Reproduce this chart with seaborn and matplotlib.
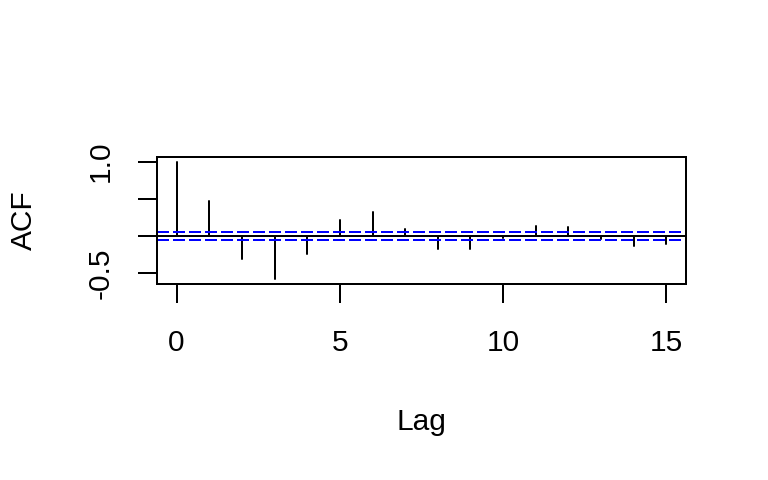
import matplotlib
matplotlib.use("Agg")
import matplotlib.pyplot as plt
import seaborn as sns
import pandas as pd
import numpy as np

lags = list(range(16))
acf_vals = [1.0, 0.465, -0.316, -0.585, -0.25, 0.21, 0.318, 0.09,
            -0.174, -0.18, -0.027, 0.13, 0.117, -0.04, -0.134, -0.107]
ci = 0.054
x_ticks = [0, 5, 10, 15]
y_ticks = [-0.5, 0.0, 0.5, 1.0]
y_ticklabels = ["-0.5", "", "", "1.0"]

sns.set_theme(style="white")
plt.rcParams['font.family'] = ['Liberation Sans', 'DejaVu Sans']

fig = plt.figure(figsize=(7.68, 4.8), dpi=100)
L, R, T, B = 157, 686, 157, 284
ax = fig.add_axes([L / 768, 1 - B / 480, (R - L) / 768, (B - T) / 480])

rows = []
for lag, v in zip(lags, acf_vals):
    rows.append({"lag": lag, "val": 0.0, "id": lag})
    rows.append({"lag": lag, "val": v, "id": lag})
df = pd.DataFrame(rows)

lw = 1.44
sns.lineplot(data=df, x="lag", y="val", units="id", estimator=None,
             color="black", lw=lw, ax=ax, legend=False)
ax.axhline(0, color="black", lw=lw)
for c in (ci, -ci):
    ax.axhline(c, color=(0, 0, 1), lw=lw, linestyle=(0, (6, 2)))

ax.set_xlim(-0.6, 15.6)
ax.set_ylim(-0.6484, 1.0634)
ax.set_xticks(x_ticks)
ax.set_xticklabels([str(t) for t in x_ticks])
ax.set_yticks(y_ticks)
ax.set_yticklabels(y_ticklabels, rotation=90, va="center")

fs = 21.5
ax.tick_params(axis="both", which="major", length=13.7, width=lw,
               color="black", labelsize=fs, labelcolor="black",
               direction="out", bottom=True, left=True)
ax.tick_params(axis="x", pad=19)
ax.tick_params(axis="y", pad=17)
for s in ax.spines.values():
    s.set_color("black")
    s.set_linewidth(lw)

ax.set_xlabel("Lag", fontsize=fs, color="black")
ax.set_ylabel("ACF", fontsize=fs, color="black")
ax.xaxis.set_label_coords(0.5, (284 - 422) / 127)
ax.xaxis.label.set_va("center")
ax.yaxis.set_label_coords((24 - 157) / 529, 0.5)
ax.yaxis.label.set_va("center")

fig.savefig("out.png", dpi=100, facecolor="white")
